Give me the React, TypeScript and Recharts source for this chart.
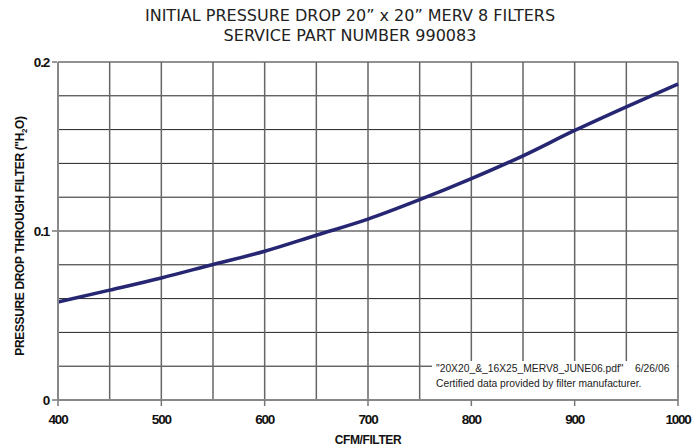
import React from 'react';
import { LineChart, Line, XAxis, YAxis, CartesianGrid } from 'recharts';

const cfm = [400, 450, 500, 550, 600, 650, 700, 750, 800, 850, 900, 950, 1000];
const pressure = [0.058, 0.065, 0.0722, 0.0802, 0.088, 0.0975, 0.107, 0.1185, 0.131, 0.1445, 0.1595, 0.1735, 0.187];
const xTicks = [400, 450, 500, 550, 600, 650, 700, 750, 800, 850, 900, 950, 1000];
const yTicks = [0, 0.02, 0.04, 0.06, 0.08, 0.1, 0.12, 0.14, 0.16, 0.18, 0.2];
const yLabelled = [0, 0.1, 0.2];
const titleLines = ['INITIAL PRESSURE DROP 20\u201D x 20\u201D MERV 8 FILTERS', 'SERVICE PART NUMBER 990083'];
const noteFile = '"20X20_&_16X25_MERV8_JUNE06.pdf"';
const noteDate = '6/26/06';
const noteLine2 = 'Certified data provided by filter manufacturer.';

const data = cfm.map((c, i) => ({ cfm: c, p: pressure[i] }));

const FONT = 'Liberation Sans, Arial, sans-serif';

const XTick = (props: any) => {
  const { x, y, payload } = props;
  const v = payload.value;
  if (v % 100 !== 0) return <g />;
  return (
    <g>
      <line x1={x} x2={x} y1={y - 8} y2={y - 2} stroke="#777" strokeWidth={1.5} />
      <text x={x} y={y + 16} textAnchor="middle" fontFamily={FONT} fontWeight="bold" fontSize={13.5} letterSpacing={-1.2} fill="#111">{v}</text>
    </g>
  );
};

const YTick = (props: any) => {
  const { x, y, payload } = props;
  const v = payload.value;
  if (!yLabelled.some((t) => Math.abs(t - v) < 1e-9)) return <g />;
  return (
    <g>
      <line x1={x + 2} x2={x + 7} y1={y} y2={y} stroke="#777" strokeWidth={1.5} />
      <text x={x - 1} y={y + 5} textAnchor="end" fontFamily={FONT} fontWeight="bold" fontSize={13.5} letterSpacing={-1.2} fill="#111">{v === 0 ? '0' : v.toFixed(1)}</text>
    </g>
  );
};

const YLabel = () => (
  <text transform="translate(24,236) rotate(-90)" textAnchor="middle" fontFamily={FONT} fontWeight="bold" fontSize={12} letterSpacing={-0.35} fill="#111">
    PRESSURE DROP THROUGH FILTER ("H<tspan fontSize={8} dy={3}>2</tspan><tspan dy={-3}>O)</tspan>
  </text>
);

const XLabel = () => (
  <text x={368} y={444} textAnchor="middle" fontFamily={FONT} fontWeight="bold" fontSize={12} letterSpacing={-0.4} fill="#111">CFM/FILTER</text>
);

export default function App() {
  return (
    <div style={{ position: 'absolute', left: 0, top: 0, width: 700, height: 446, background: '#fff' }}>
      <div style={{ position: 'absolute', left: 0, top: 6, width: 700, textAlign: 'center', fontFamily: '"DejaVu Sans", sans-serif', fontSize: 16, lineHeight: '20px', color: '#222' }}>
        {titleLines.map((t) => <div key={t}>{t}</div>)}
      </div>
      <LineChart width={700} height={446} data={data} margin={{ top: 62, right: 22, left: 0, bottom: 0 }} style={{ position: 'absolute', left: 0, top: 0 }}>
        <CartesianGrid horizontal={true} vertical={false} stroke="#222" strokeWidth={1} strokeOpacity={1} />
        <CartesianGrid horizontal={false} vertical={true} stroke="#666" strokeWidth={1.5} strokeOpacity={1} />
        <XAxis dataKey="cfm" type="number" domain={[400, 1000]} ticks={xTicks} interval={0} height={46} axisLine={{ stroke: '#888', strokeWidth: 2 }} tickLine={false} tick={<XTick />} label={<XLabel />} />
        <YAxis type="number" domain={[0, 0.2]} ticks={yTicks} interval={0} width={58} axisLine={{ stroke: '#888', strokeWidth: 2 }} tickLine={false} tick={<YTick />} label={<YLabel />} />
        <Line type="monotone" dataKey="p" stroke="#262673" strokeWidth={3.5} dot={false} isAnimationActive={false} />
      </LineChart>
      <div style={{ position: 'absolute', left: 432, top: 361, width: 245, height: 38, background: '#fff', fontFamily: FONT, fontSize: 10.3, color: '#222', lineHeight: '15px', boxSizing: 'border-box', whiteSpace: 'pre' }}>
        <div style={{ position: 'absolute', left: 4, top: 0 }}>{noteFile}</div>
        <div style={{ position: 'absolute', left: 203, top: 0 }}>{noteDate}</div>
        <div style={{ position: 'absolute', left: 4, top: 15 }}>{noteLine2}</div>
      </div>
    </div>
  );
}
